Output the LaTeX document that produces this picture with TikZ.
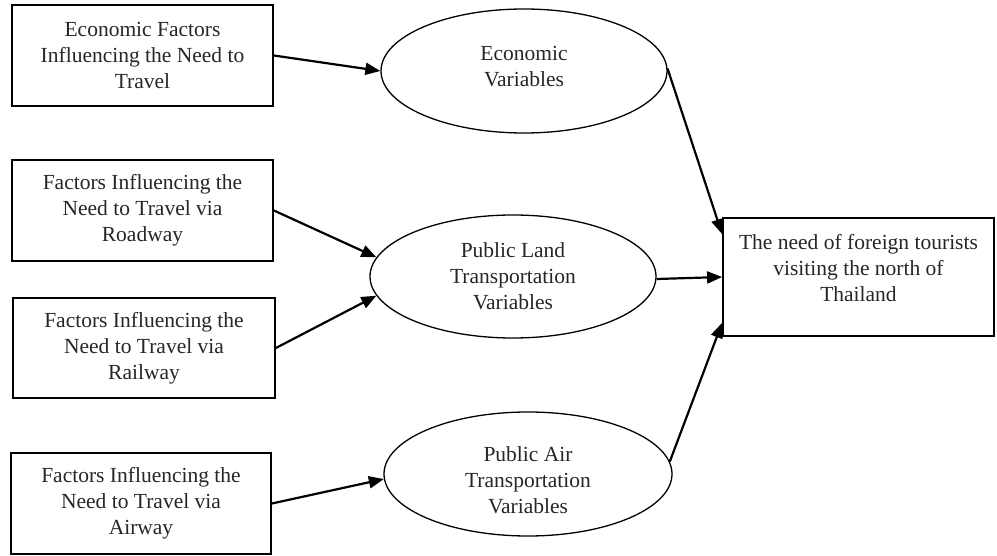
\documentclass[tikz,border=0pt]{standalone}
\usepackage{fontspec}
\setmainfont{Liberation Serif}
\usetikzlibrary{shapes.geometric,arrows.meta,calc}
\tikzset{
  box/.style={draw=black, line width=1.8pt, rectangle, inner sep=0pt},
  oval/.style={draw=black, line width=1.3pt, ellipse, inner sep=0pt},
  txt/.style={align=center, text=black!85, font=\fontsize{21.5}{26}\selectfont, inner sep=0pt},
  link/.style={line width=2.2pt, -{Triangle[length=15pt,width=12pt]}}
}
\begin{document}
\begin{tikzpicture}[x=1pt,y=-1pt]
\useasboundingbox (0,0) rectangle (997,556);
% left boxes
\node[box, minimum width=261pt, minimum height=101pt] (B1) at (142.5,55.5) {};
\node[txt] (T1) at (B1.center) {Economic Factors\\Influencing the Need to\\Travel};
\node[box, minimum width=261pt, minimum height=101pt] (B2) at (142.5,210.5) {};
\node[txt] (T2) at (B2.center) {Factors Influencing the\\Need to Travel via\\Roadway};
\node[box, minimum width=262pt, minimum height=100pt] (B3) at (144,348) {};
\node[txt] (T3) at (B3.center) {Factors Influencing the\\Need to Travel via\\Railway};
\node[box, minimum width=260pt, minimum height=101pt] (B4) at (141,503.5) {};
\node[txt] (T4) at (B4.center) {Factors Influencing the\\Need to Travel via\\Airway};
% ellipses
\node[oval, minimum width=286pt, minimum height=124pt] (E1) at (524,71) {};
\node[txt] (U1) at (524,67) {Economic\\Variables};
\node[oval, minimum width=286pt, minimum height=123pt] (E2) at (513,276.5) {};
\node[txt] (U2) at (513,276) {Public Land\\Transportation\\Variables};
\node[oval, minimum width=288pt, minimum height=124pt] (E3) at (528,474) {};
\node[txt] (U3) at (528,480) {Public Air\\Transportation\\Variables};
% right box
\node[box, minimum width=271pt, minimum height=118pt] (R) at (858.5,277) {};
\node[txt] (RT) at (858.5,268) {The need of foreign tourists\\visiting the north of\\Thailand};
\coordinate (R1) at ($(R.north west)+(0,17)$);
\coordinate (R2) at (R.west);
\coordinate (R3) at ($(R.south west)+(0,-14)$);
% connectors
\draw[link] (B1.east) -- (E1.180);
\draw[link] (B2.east) -- (E2.172);
\draw[link] (B3.east) -- (E2.188);
\draw[link] (B4.east) -- (E3.182);
\draw[link] (E1.1) -- (R1);
\draw[link] (E2.359) -- (R2);
\draw[link] (E3.5) -- (R3);
\end{tikzpicture}
\end{document}
